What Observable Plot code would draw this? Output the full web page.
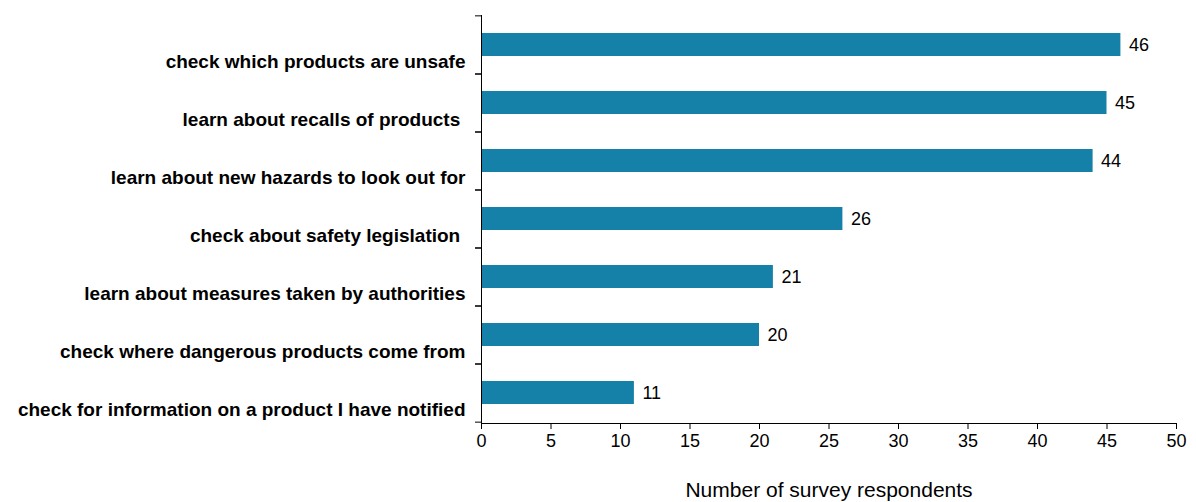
<!DOCTYPE html>
<html>
<head>
<meta charset="utf-8">
<script src="https://cdn.jsdelivr.net/npm/d3@7"></script>
<script src="https://cdn.jsdelivr.net/npm/@observablehq/plot@0.6"></script>
<style>
  html, body { margin: 0; padding: 0; background: #fff; }
</style>
</head>
<body>
<div id="chart"></div>
<script>
const categories = [
  "check which products are unsafe",
  "learn about recalls of products ",
  "learn about new hazards to look out for",
  "check about safety legislation ",
  "learn about measures taken by authorities",
  "check where dangerous products come from",
  "check for information on a product I have notified"
];
const values = [46, 45, 44, 26, 21, 20, 11];
const xTicks = [0, 5, 10, 15, 20, 25, 30, 35, 40, 45, 50];
const xLabel = "Number of survey respondents";

const data = categories.map((c, i) => ({category: c, value: values[i]}));

const W = 1196, H = 502;
const mTop = 15, mBottom = 79;
const step = (H - mTop - mBottom) / categories.length;
const font = "'Liberation Sans', Arial, sans-serif";

const chart = Plot.plot({
  width: W,
  height: H,
  marginLeft: 481,
  marginRight: 20,
  marginTop: mTop,
  marginBottom: mBottom,
  style: {fontFamily: font, fontSize: "18px", color: "#000", background: "#fff", overflow: "visible"},
  x: {domain: [0, 50]},
  y: {domain: categories, paddingInner: 0.6, paddingOuter: 0.3},
  marks: [
    Plot.barX(data, {x: "value", y: "category", fill: "#1681a8"}),
    Plot.text(data, {x: "value", y: "category", text: d => String(d.value), textAnchor: "start", dx: 8, fontSize: 18, fill: "#000"}),
    Plot.frame({anchor: "left", stroke: "#000"}),
    Plot.frame({anchor: "bottom", stroke: "#000"}),
    Plot.axisY({tickSize: 6, text: null, label: null, dy: step / 2, stroke: "#000"}),
    Plot.axisY({tickSize: 6, text: null, label: null, dy: -step / 2, stroke: "#000"}),
    Plot.axisY({tickSize: 0, tickPadding: 16, dy: 17, fontWeight: "bold", fontSize: 19, label: null, fill: "#000",
      tickFormat: d => d}),
    Plot.axisX({ticks: xTicks, tickSize: 6, tickPadding: 5, fontSize: 18, fill: "#000", stroke: "#000", label: null}),
    Plot.axisX({ticks: [], tickSize: 0, fontSize: 21, fill: "#000",
      label: xLabel, labelAnchor: "center", labelArrow: "none", labelOffset: 73})
  ]
});
document.getElementById("chart").appendChild(chart);
</script>
</body>
</html>
